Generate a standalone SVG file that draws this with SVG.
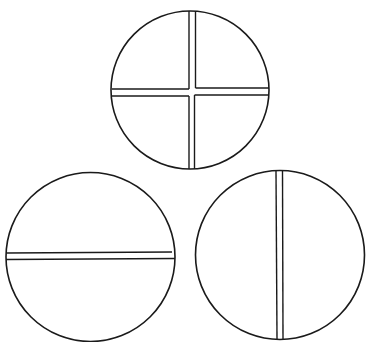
<svg xmlns="http://www.w3.org/2000/svg" width="366" height="342" viewBox="0 0 366 342">
<style>
.c{fill:none;stroke:#1a1a1a;stroke-width:1.6}
.l{fill:none;stroke:#1a1a1a;stroke-width:1.4}
</style>
<rect width="366" height="342" fill="#fff"/>
<g id="top">
<circle class="c" cx="190" cy="90" r="79"/>
<line class="l" x1="189" y1="11" x2="189" y2="89"/>
<line class="l" x1="195.5" y1="11" x2="195.5" y2="88"/>
<line class="l" x1="189" y1="96" x2="189" y2="169"/>
<line class="l" x1="194.5" y1="95" x2="194.5" y2="169"/>
<line class="l" x1="112" y1="89" x2="189" y2="89"/>
<line class="l" x1="195.5" y1="88" x2="269" y2="88"/>
<line class="l" x1="112" y1="96" x2="189" y2="96"/>
<line class="l" x1="194.5" y1="95" x2="269" y2="95"/>
</g>
<g id="left">
<circle class="c" cx="90.5" cy="257" r="84.5"/>
<line class="l" x1="7" y1="253" x2="172" y2="252"/>
<line class="l" x1="6" y1="259.5" x2="175" y2="258.5"/>
</g>
<g id="right">
<circle class="c" cx="280" cy="255" r="84.5"/>
<line class="l" x1="276" y1="171" x2="277" y2="339"/>
<line class="l" x1="282.5" y1="171" x2="283" y2="339"/>
</g>
</svg>
